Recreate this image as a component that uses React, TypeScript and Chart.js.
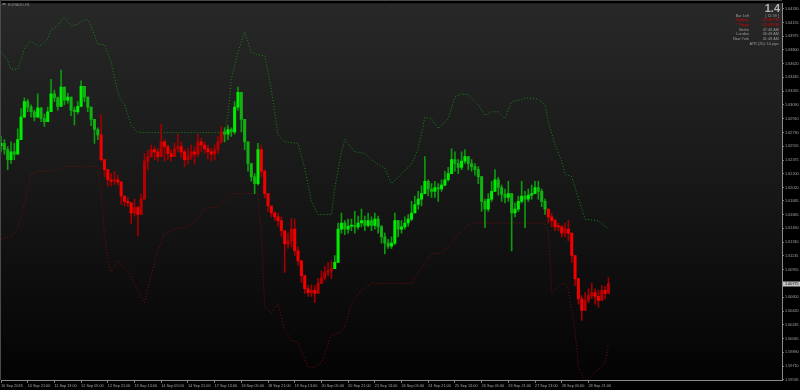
import React, { useEffect, useRef } from 'react';
import { Chart, registerables } from 'chart.js';

Chart.register(...registerables);

// ---------- data ----------
const symbolTitle = 'EURAUD,H1';

const timeLabels = [
  '10 Sep 2018', '10 Sep 21:00', '11 Sep 13:00', '12 Sep 05:00', '12 Sep 21:00', '13 Sep 13:00',
  '14 Sep 05:00', '14 Sep 21:00', '17 Sep 13:00', '18 Sep 05:00', '18 Sep 21:00', '19 Sep 13:00',
  '20 Sep 05:00', '20 Sep 21:00', '21 Sep 13:00', '24 Sep 05:00', '24 Sep 21:00', '25 Sep 13:00',
  '26 Sep 05:00', '26 Sep 21:00', '27 Sep 13:00', '28 Sep 05:00', '28 Sep 21:00',
];
const labelEvery = 8; // bars between two time labels
const totalSlots = 235; // visible bar slots incl. empty right margin

const yTickValues = [
  1.6433, 1.64155, 1.63975, 1.638, 1.6362, 1.63445, 1.63265, 1.6309, 1.6291, 1.6273,
  1.62555, 1.62375, 1.622, 1.6202, 1.61845, 1.61665, 1.6149, 1.6131, 1.61135, 1.60955,
  1.60775, 1.606, 1.6042, 1.60245, 1.60065, 1.5989, 1.5971, 1.59535,
];
const yMin = 1.59529;
const yMax = 1.64403;

const firstOpen = 1.6256;
const closes = [
  1.6259, 1.6251, 1.6238, 1.6248, 1.6245, 1.6264, 1.6293, 1.6313, 1.6306, 1.6300,
  1.6293, 1.6305, 1.6291, 1.6287, 1.6300, 1.6323, 1.6318, 1.6307, 1.6332, 1.6315,
  1.6319, 1.6302, 1.6300, 1.6307, 1.6333, 1.6319, 1.6306, 1.6290, 1.6277, 1.6270,
  1.6238, 1.6225, 1.6212, 1.6210, 1.6212, 1.6209, 1.6191, 1.6184, 1.6182, 1.6169,
  1.6176, 1.6167, 1.6187, 1.6236, 1.6242, 1.6251, 1.6248, 1.6242, 1.6261, 1.6255,
  1.6246, 1.6242, 1.6252, 1.6255, 1.6248, 1.6238, 1.6242, 1.6248, 1.6245, 1.6261,
  1.6257, 1.6252, 1.6248, 1.6245, 1.6251, 1.6261, 1.6274, 1.6271, 1.6277, 1.6274,
  1.6306, 1.6325, 1.6290, 1.6261, 1.6233, 1.6216, 1.6207, 1.6251, 1.6223, 1.6194,
  1.6178, 1.6169, 1.6164, 1.6159, 1.6146, 1.6129, 1.6133, 1.6148, 1.6120, 1.6107,
  1.6088, 1.6071, 1.6066, 1.6069, 1.6065, 1.6078, 1.6085, 1.6092, 1.6094, 1.6097,
  1.6105, 1.6148, 1.6156, 1.6148, 1.6152, 1.6153, 1.6151, 1.6156, 1.6159, 1.6153,
  1.6159, 1.6153, 1.6161, 1.6151, 1.6138, 1.6130, 1.6126, 1.6130, 1.6159, 1.6148,
  1.6151, 1.6156, 1.6161, 1.6169, 1.6180, 1.6187, 1.6194, 1.6210, 1.6200, 1.6197,
  1.6202, 1.6200, 1.6205, 1.6212, 1.6220, 1.6238, 1.6233, 1.6228, 1.6236, 1.6242,
  1.6233, 1.6229, 1.6225, 1.6216, 1.6184, 1.6174, 1.6187, 1.6197, 1.6212, 1.6202,
  1.6193, 1.6189, 1.6194, 1.6169, 1.6174, 1.6184, 1.6191, 1.6187, 1.6192, 1.6194,
  1.6202, 1.6197, 1.6184, 1.6174, 1.6164, 1.6159, 1.6151, 1.6151, 1.6143, 1.6148,
  1.6143, 1.6114, 1.6084, 1.6058, 1.6043, 1.6056, 1.6062, 1.6066, 1.6061, 1.6056,
  1.6069, 1.6065, 1.60775,
];
const highs = [
  1.6268, 1.6264, 1.6255, 1.6261, 1.6259, 1.6278, 1.6304, 1.6318, 1.6316, 1.6309,
  1.6302, 1.6323, 1.6302, 1.6297, 1.6306, 1.6342, 1.6328, 1.6319, 1.6354, 1.6325,
  1.6324, 1.6318, 1.6306, 1.6313, 1.6340, 1.6329, 1.6316, 1.6302, 1.6287, 1.6279,
  1.6296, 1.6236, 1.6223, 1.6220, 1.6223, 1.6218, 1.6210, 1.6191, 1.6189, 1.6180,
  1.6187, 1.6178, 1.6193, 1.6246, 1.6250, 1.6257, 1.6255, 1.6252, 1.6284, 1.6264,
  1.6257, 1.6251, 1.6259, 1.6271, 1.6261, 1.6251, 1.6253, 1.6257, 1.6255, 1.6271,
  1.6266, 1.6261, 1.6257, 1.6253, 1.6257, 1.6268, 1.6281, 1.6279, 1.6282, 1.6279,
  1.6313, 1.6332, 1.6302, 1.6274, 1.6257, 1.6225, 1.6220, 1.6259, 1.6257, 1.6225,
  1.6187, 1.6178, 1.6171, 1.6169, 1.6164, 1.6146, 1.6143, 1.6162, 1.6161, 1.6125,
  1.6107, 1.6082, 1.6075, 1.6076, 1.6075, 1.6084, 1.6094, 1.6100, 1.6105, 1.6107,
  1.6114, 1.6156, 1.6169, 1.6159, 1.6161, 1.6161, 1.6171, 1.6165, 1.6174, 1.6165,
  1.6169, 1.6164, 1.6169, 1.6165, 1.6153, 1.6143, 1.6135, 1.6138, 1.6169, 1.6159,
  1.6159, 1.6164, 1.6167, 1.6184, 1.6191, 1.6197, 1.6204, 1.6242, 1.6212, 1.6207,
  1.6210, 1.6207, 1.6212, 1.6223, 1.6228, 1.6252, 1.6248, 1.6238, 1.6248, 1.6251,
  1.6242, 1.6238, 1.6233, 1.6229, 1.6216, 1.6187, 1.6194, 1.6210, 1.6225, 1.6215,
  1.6205, 1.6200, 1.6210, 1.6184, 1.6182, 1.6191, 1.6210, 1.6197, 1.6200, 1.6205,
  1.6210, 1.6210, 1.6200, 1.6187, 1.6171, 1.6169, 1.6161, 1.6156, 1.6153, 1.6156,
  1.6159, 1.6143, 1.6114, 1.6084, 1.6062, 1.6066, 1.6071, 1.6078, 1.6071, 1.6069,
  1.6075, 1.6074, 1.6085,
];
const lows = [
  1.6248, 1.6245, 1.6225, 1.6233, 1.6238, 1.6248, 1.6277, 1.6297, 1.6300, 1.6293,
  1.6288, 1.6297, 1.6287, 1.6281, 1.6290, 1.6300, 1.6313, 1.6302, 1.6313, 1.6309,
  1.6311, 1.6295, 1.6283, 1.6297, 1.6307, 1.6313, 1.6300, 1.6282, 1.6259, 1.6264,
  1.6236, 1.6216, 1.6204, 1.6204, 1.6206, 1.6205, 1.6180, 1.6178, 1.6177, 1.6155,
  1.6165, 1.6139, 1.6171, 1.6187, 1.6225, 1.6241, 1.6238, 1.6236, 1.6248, 1.6236,
  1.6238, 1.6236, 1.6246, 1.6248, 1.6241, 1.6229, 1.6232, 1.6238, 1.6232, 1.6242,
  1.6248, 1.6246, 1.6239, 1.6236, 1.6238, 1.6246, 1.6259, 1.6261, 1.6264, 1.6268,
  1.6271, 1.6302, 1.6274, 1.6251, 1.6223, 1.6210, 1.6194, 1.6205, 1.6216, 1.6188,
  1.6171, 1.6164, 1.6159, 1.6152, 1.6139, 1.6092, 1.6123, 1.6125, 1.6114, 1.6101,
  1.6079, 1.6065, 1.6061, 1.6061, 1.6053, 1.6069, 1.6079, 1.6082, 1.6088, 1.6084,
  1.6097, 1.6105, 1.6143, 1.6141, 1.6143, 1.6146, 1.6143, 1.6148, 1.6151, 1.6146,
  1.6151, 1.6146, 1.6148, 1.6143, 1.6130, 1.6116, 1.6123, 1.6123, 1.6128, 1.6138,
  1.6143, 1.6148, 1.6152, 1.6159, 1.6169, 1.6174, 1.6178, 1.6194, 1.6191, 1.6189,
  1.6189, 1.6184, 1.6197, 1.6204, 1.6210, 1.6220, 1.6223, 1.6220, 1.6225, 1.6233,
  1.6225, 1.6223, 1.6218, 1.6207, 1.6171, 1.6150, 1.6171, 1.6184, 1.6197, 1.6192,
  1.6184, 1.6182, 1.6184, 1.6120, 1.6164, 1.6171, 1.6182, 1.6150, 1.6184, 1.6187,
  1.6194, 1.6187, 1.6177, 1.6167, 1.6156, 1.6151, 1.6146, 1.6146, 1.6138, 1.6138,
  1.6133, 1.6105, 1.6075, 1.6051, 1.6030, 1.6046, 1.6053, 1.6058, 1.6051, 1.6047,
  1.6061, 1.6058, 1.6066,
];

// trend segments (bar index where a trend starts, and its direction)
const trendStart = [0, 30, 67, 78, 100, 164];
const trendUp = [true, false, true, false, true, false];

// channel lines: [bar index, price]
const upperBand: [number, number][] = [
  [0, 1.6377], [2, 1.6367], [3, 1.6355], [5, 1.6355], [6, 1.6367], [7, 1.6381], [8, 1.6387], [9, 1.6391],
  [11, 1.6385], [12, 1.6386], [14, 1.6394], [15, 1.6406], [17, 1.6411], [18, 1.6418], [19, 1.6422],
  [21, 1.6411], [23, 1.6413], [25, 1.6419], [26, 1.6419], [27, 1.6411], [29, 1.6387], [31, 1.6387],
  [33, 1.6364], [35, 1.6325], [36, 1.6315], [37, 1.6309], [39, 1.6283], [41, 1.6273], [67, 1.6273],
  [68, 1.6296], [69, 1.6342], [71, 1.6377], [73, 1.6404], [75, 1.6377], [77, 1.6373], [79, 1.6373],
  [81, 1.6329], [83, 1.6270], [85, 1.6261], [89, 1.6259], [91, 1.6227], [93, 1.6184], [95, 1.6167],
  [99, 1.6167], [100, 1.6201], [102, 1.6248], [103, 1.6264], [106, 1.6248], [109, 1.6246], [111, 1.6238],
  [114, 1.6229], [115, 1.6227], [117, 1.6207], [120, 1.6220], [123, 1.6232], [125, 1.6252], [127, 1.6293],
  [129, 1.6291], [131, 1.6278], [134, 1.6291], [136, 1.6319], [138, 1.6323], [140, 1.6322], [143, 1.6309],
  [145, 1.6295], [147, 1.6300], [149, 1.6300], [151, 1.6291], [153, 1.6313], [156, 1.6316], [158, 1.6318],
  [161, 1.6316], [163, 1.6309], [164, 1.6287], [166, 1.6257], [168, 1.6236], [169, 1.6219], [171, 1.6216],
  [173, 1.6188], [175, 1.6161], [179, 1.6159], [182, 1.6148],
];
const lowerBand: [number, number][] = [
  [0, 1.6135], [3, 1.6138], [5, 1.6150], [7, 1.6180], [9, 1.6219], [11, 1.6223], [15, 1.6223], [18, 1.6227],
  [19, 1.6229], [29, 1.6229], [30, 1.6193], [31, 1.6142], [32, 1.6111], [33, 1.6092], [35, 1.6107],
  [38, 1.6094], [41, 1.6069], [43, 1.6053], [44, 1.6073], [47, 1.6120], [49, 1.6142], [51, 1.6146],
  [53, 1.6150], [55, 1.6150], [58, 1.6156], [61, 1.6175], [65, 1.6177], [69, 1.6194], [77, 1.6194],
  [78, 1.6142], [79, 1.6047], [81, 1.6040], [83, 1.6052], [85, 1.6017], [87, 1.6004], [89, 1.6002],
  [92, 1.5970], [94, 1.5969], [96, 1.5976], [99, 1.6011], [101, 1.6013], [103, 1.6021], [105, 1.6052],
  [108, 1.6069], [111, 1.6078], [123, 1.6078], [126, 1.6098], [129, 1.6116], [132, 1.6117], [135, 1.6130],
  [138, 1.6146], [141, 1.6156], [163, 1.6156], [164, 1.6142], [165, 1.6066], [167, 1.6074], [169, 1.6079],
  [170, 1.6069], [172, 1.6017], [173, 1.5970], [175, 1.5951], [176, 1.5956], [179, 1.5966], [181, 1.5975],
  [182, 1.5998],
];

const currentPrice = 1.60775;
const spreadValue = '1.4';
const barLeftText = '[ 11:59 ]';
const sessionNames = ['Sydney', 'Tokyo', 'Berlin', 'London', 'New York'];
const sessionTimes = ['03:48 PM', '02:48 PM', '07:48 AM', '06:48 AM', '01:48 AM'];
const sessionOpen = [true, true, false, false, false];
const atrText = 'ATR (20): 14 pips';

// ---------- chart ----------
const FONT = '"Liberation Sans", "DejaVu Sans", sans-serif';
const SMALL = 3.8;

const isUpAt = (i: number) => {
  let up = trendUp[0];
  for (let k = 0; k < trendStart.length; k++) if (i >= trendStart[k]) up = trendUp[k];
  return up;
};

const backgroundPlugin = {
  id: 'mtBackground',
  beforeDraw(chart: any) {
    const { ctx, chartArea: a, width, height } = chart;
    ctx.save();
    ctx.fillStyle = '#000000';
    ctx.fillRect(0, 0, width, height);
    const g = ctx.createLinearGradient(0, a.top, 0, a.bottom);
    g.addColorStop(0, '#282828');
    g.addColorStop(0.5, '#171717');
    g.addColorStop(1, '#030303');
    ctx.fillStyle = g;
    ctx.fillRect(a.left, a.top, a.right - a.left, a.bottom - a.top);
    ctx.strokeStyle = '#4a4a4a';
    ctx.lineWidth = 1;
    ctx.beginPath();
    ctx.moveTo(0.5, a.bottom);
    ctx.lineTo(0.5, 0.5);
    ctx.lineTo(a.right, 0.5);
    ctx.stroke();
    ctx.restore();
  },
};

const overlayPlugin = {
  id: 'mtOverlay',
  afterDraw(chart: any) {
    const { ctx, chartArea: a, width } = chart;
    const yScale = chart.scales.y;
    ctx.save();
    // title
    ctx.fillStyle = '#6a6a6a';
    ctx.fillRect(2.5, 3, 3, 2);
    ctx.font = `${SMALL}px ${FONT}`;
    ctx.textBaseline = 'middle';
    ctx.textAlign = 'left';
    ctx.fillStyle = '#8a8a8a';
    ctx.fillText(symbolTitle, 8, 4.5);

    // current price box
    const py = yScale.getPixelForValue(currentPrice);
    ctx.fillStyle = '#c4c4c4';
    ctx.fillRect(a.right + 1, Math.round(py) - 2.5, width - a.right - 1, 5);
    ctx.fillStyle = '#000000';
    ctx.fillText(currentPrice.toFixed(5), a.right + 3, py);

    // info panel
    ctx.textAlign = 'right';
    ctx.textBaseline = 'alphabetic';
    ctx.font = `bold 11px ${FONT}`;
    ctx.fillStyle = '#b4b4b4';
    ctx.fillText(spreadValue, 780, 11.5);

    ctx.font = `${SMALL}px ${FONT}`;
    ctx.textBaseline = 'middle';
    const gray = '#9a9a9a';
    const red = '#d20000';
    ctx.fillStyle = gray;
    ctx.fillText('Bar Left', 749, 15.7);
    ctx.fillText(barLeftText, 779, 15.7);
    sessionNames.forEach((name, k) => {
      const y = 20.3 + k * 4.7;
      ctx.fillStyle = sessionOpen[k] ? red : gray;
      ctx.fillText((sessionOpen[k] ? '* ' : '') + name, 749, y);
      ctx.fillText(sessionTimes[k], 779, y);
    });
    ctx.fillStyle = gray;
    ctx.fillText(atrText, 779, 43.7);
    ctx.restore();
  },
};

export default function App() {
  const ref = useRef<HTMLCanvasElement>(null);

  useEffect(() => {
    document.body.style.margin = '0';
    document.body.style.background = '#000';
    if (!ref.current) return;

    const n = closes.length;
    const opens = closes.map((c, i) => (i === 0 ? firstOpen : closes[i - 1]));
    const slotLabels = Array.from({ length: totalSlots }, (_, i) =>
      i % labelEvery === 0 && i / labelEvery < timeLabels.length ? timeLabels[i / labelEvery] : ''
    );

    const wickData: ([number, number] | null)[] = [];
    const bodyData: ([number, number] | null)[] = [];
    const wickColors: string[] = [];
    const bodyColors: string[] = [];
    for (let i = 0; i < totalSlots; i++) {
      if (i >= n) {
        wickData.push(null);
        bodyData.push(null);
        wickColors.push('transparent');
        bodyColors.push('transparent');
        continue;
      }
      const o = opens[i];
      const c = closes[i];
      const hi = Math.max(highs[i], o, c);
      const lo = Math.min(lows[i], o, c);
      const up = isUpAt(i);
      wickData.push([lo, hi]);
      bodyData.push([o, c]);
      if (up) {
        wickColors.push('#0d9a0d');
        bodyColors.push(c >= o ? '#00ec00' : '#12b012');
      } else {
        wickColors.push('#a00000');
        bodyColors.push(c <= o ? '#f00000' : '#b40000');
      }
    }

    const upperData: (number | null)[] = new Array(totalSlots).fill(null);
    upperBand.forEach(([k, v]) => (upperData[k] = v));
    const lowerData: (number | null)[] = new Array(totalSlots).fill(null);
    lowerBand.forEach(([k, v]) => (lowerData[k] = v));

    const chart = new Chart(ref.current, {
      type: 'bar',
      data: {
        labels: slotLabels,
        datasets: [
          {
            type: 'line',
            data: upperData,
            borderColor: '#178a17',
            borderWidth: 1,
            borderDash: [1, 2],
            pointRadius: 0,
            spanGaps: true,
            tension: 0,
            order: 3,
          } as any,
          {
            type: 'line',
            data: lowerData,
            borderColor: '#7c0c0c',
            borderWidth: 1,
            borderDash: [1, 2],
            pointRadius: 0,
            spanGaps: true,
            tension: 0,
            order: 4,
          } as any,
          {
            type: 'bar',
            data: wickData,
            backgroundColor: wickColors,
            borderWidth: 0,
            barThickness: 1,
            grouped: false,
            order: 2,
          } as any,
          {
            type: 'bar',
            data: bodyData,
            backgroundColor: bodyColors,
            borderWidth: 0,
            barThickness: 2.4,
            minBarLength: 1,
            grouped: false,
            order: 1,
          } as any,
        ],
      },
      options: {
        responsive: false,
        animation: false,
        devicePixelRatio: 1,
        layout: { padding: { top: 1, left: 1, right: 0, bottom: 0 } },
        plugins: { legend: { display: false }, tooltip: { enabled: false } },
        events: [],
        scales: {
          x: {
            type: 'category',
            offset: false,
            afterBuildTicks: (s: any) => {
              s.ticks = s.ticks.filter(
                (t: any) => t.value % labelEvery === 0 && t.value / labelEvery < timeLabels.length
              );
            },
            afterFit: (s: any) => {
              s.height = 10;
            },
            ticks: {
              autoSkip: false,
              maxRotation: 0,
              minRotation: 0,
              align: 'start',
              color: '#a4a4a4',
              font: { family: FONT, size: SMALL },
              padding: 1,
            },
            grid: { display: true, drawOnChartArea: false, drawTicks: true, tickLength: 3, color: '#7a7a7a', offset: false },
            border: { display: true, color: '#8a8a8a' },
          },
          y: {
            type: 'linear',
            position: 'right',
            min: yMin,
            max: yMax,
            afterBuildTicks: (s: any) => {
              s.ticks = yTickValues.map((v) => ({ value: v }));
            },
            afterFit: (s: any) => {
              s.width = 18;
            },
            ticks: {
              autoSkip: false,
              color: '#a4a4a4',
              font: { family: FONT, size: SMALL },
              padding: 1,
              callback: (v: any) => Number(v).toFixed(5),
            },
            grid: { display: true, drawOnChartArea: false, drawTicks: true, tickLength: 2, color: '#7a7a7a' },
            border: { display: true, color: '#8a8a8a' },
          },
        },
      } as any,
      plugins: [backgroundPlugin, overlayPlugin],
    });

    return () => chart.destroy();
  }, []);

  return <canvas ref={ref} width={800} height={390} style={{ display: 'block' }} />;
}
